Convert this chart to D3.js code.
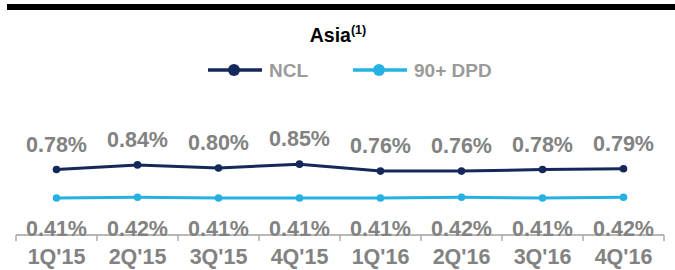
<!DOCTYPE html>
<html>
<head>
<meta charset="utf-8">
<script src="https://cdn.jsdelivr.net/npm/d3@7"></script>
<style>
  html, body { margin: 0; padding: 0; background: #fff; }
  svg { display: block; font-family: "Liberation Sans", Arial, sans-serif; }
</style>
</head>
<body>
<div id="chart"></div>
<script>
// quarters on the x axis
const quarters = ["1Q'15", "2Q'15", "3Q'15", "4Q'15", "1Q'16", "2Q'16", "3Q'16", "4Q'16"];
// net credit losses, %
const ncl = [0.78, 0.84, 0.80, 0.85, 0.76, 0.76, 0.78, 0.79];
// 90+ days past due, %
const dpd = [0.41, 0.42, 0.41, 0.41, 0.41, 0.42, 0.41, 0.42];

const colors = { NCL: "#15285a", "90+ DPD": "#25b2e2" };
const labelGrey = "#828282";

const W = 675, H = 270;
const svg = d3.select("#chart").append("svg")
  .attr("width", W).attr("height", H);

// top rule
svg.append("rect").attr("x", 7).attr("y", 4).attr("width", W - 7).attr("height", 6).attr("fill", "#000");

// title
const title = svg.append("text")
  .attr("x", 338).attr("y", 42)
  .attr("text-anchor", "middle")
  .attr("font-size", "19.5px").attr("font-weight", "bold").attr("fill", "#000");
title.append("tspan").text("Asia");
title.append("tspan").attr("font-size", "12.5px").attr("dy", -8).text("(1)");

// legend
const legend = [
  { name: "NCL", x: 208 },
  { name: "90+ DPD", x: 353 }
];
const lg = svg.selectAll(".legend").data(legend).join("g")
  .attr("class", "legend")
  .attr("transform", d => `translate(${d.x},70)`);
lg.append("line").attr("x1", 0).attr("x2", 54).attr("y1", 0).attr("y2", 0)
  .attr("stroke", d => colors[d.name]).attr("stroke-width", 3.5);
lg.append("circle").attr("cx", 26).attr("cy", 0).attr("r", 6)
  .attr("fill", d => colors[d.name]);
lg.append("text").attr("x", 61).attr("y", 7)
  .attr("font-size", "19px").attr("font-weight", "bold").attr("fill", "#9a9a9a")
  .text(d => d.name);

// scales
const x = d3.scaleBand().domain(quarters).range([16, 664]);
const y = d3.scaleLinear().domain([0, 1]).range([229.6, 152.6]);
const cx = d => x(d) + x.bandwidth() / 2;

// x axis
const axisY = 235;
const axis = svg.append("g").attr("transform", `translate(0,${axisY})`);
axis.append("line").attr("x1", 16).attr("x2", 664).attr("stroke", "#a0a0a0").attr("stroke-width", 1.3);
axis.selectAll(".tick").data(quarters.concat(["end"])).join("line")
  .attr("class", "tick")
  .attr("x1", (d, i) => 16 + i * x.bandwidth())
  .attr("x2", (d, i) => 16 + i * x.bandwidth())
  .attr("y1", 0).attr("y2", 6)
  .attr("stroke", "#a0a0a0").attr("stroke-width", 1.3);
axis.selectAll(".qlabel").data(quarters).join("text")
  .attr("class", "qlabel")
  .attr("x", d => cx(d)).attr("y", 29)
  .attr("text-anchor", "middle")
  .attr("font-size", "21.5px").attr("font-weight", "bold").attr("fill", labelGrey)
  .text(d => d);

// lines
const line = d3.line().x((d, i) => cx(quarters[i])).y(d => y(d));
const series = [
  { name: "NCL", values: ncl, labelDy: -18 },
  { name: "90+ DPD", values: dpd, labelDy: null }
];
series.forEach(s => {
  svg.append("path").datum(s.values)
    .attr("d", line).attr("fill", "none")
    .attr("stroke", colors[s.name]).attr("stroke-width", 3);
  svg.selectAll(null).data(s.values).join("circle")
    .attr("cx", (d, i) => cx(quarters[i])).attr("cy", d => y(d))
    .attr("r", 3.8).attr("fill", colors[s.name]);
  svg.selectAll(null).data(s.values).join("text")
    .attr("x", (d, i) => cx(quarters[i]))
    .attr("y", d => s.labelDy === null ? axisY + 1 : y(d) + s.labelDy)
    .attr("text-anchor", "middle")
    .attr("font-size", "21.5px").attr("font-weight", "bold").attr("fill", labelGrey)
    .text(d => d.toFixed(2) + "%");
});
</script>
</body>
</html>
